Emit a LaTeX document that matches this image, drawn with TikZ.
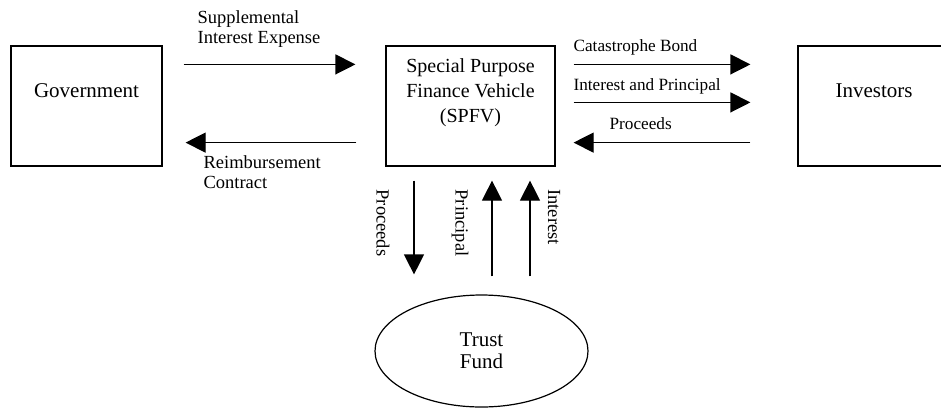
\documentclass[tikz,border=0pt]{standalone}
\usepackage{fontspec}
\setmainfont{Liberation Serif}
\usetikzlibrary{arrows.meta,shapes.geometric,calc}

\begin{document}
\begin{tikzpicture}[x=0.5pt, y=-0.5pt, line width=0.6pt,
            party/.style = {draw, rectangle,
                        minimum height=60pt},
            fund/.style = {draw, ellipse, inner sep=0pt,
                        minimum width=106.5pt, minimum height=56pt,
                        align=center, font=\fontsize{10.5}{11}\selectfont},
            title/.style = {align=center, inner sep=0pt,
                        font=\fontsize{10.5}{12.5}\selectfont},
            note/.style = {inner sep=0pt,
                        font=\fontsize{9.25}{10}\selectfont},
            smallnote/.style = {note, anchor=west,
                        font=\fontsize{8.6}{10}\selectfont},
            flow/.style = {-{Triangle[length=10pt,width=10pt]}}]
            \useasboundingbox (0,0) rectangle (941,408);
            % Parties
            \node[party, minimum width=75.5pt] (gov) at (86.5,106) {};
            \node[party, minimum width=84.5pt] (spfv) at (470.5,106) {};
            \node[party, minimum width=76pt] (inv) at (874,106) {};
            \node[fund] (trust) at (481.5,351) {Trust\\Fund};
            % Box texts
            \node[title] (govtxt) at ([yshift=7.5pt]gov.center) {Government};
            \node[title, font=\fontsize{10}{12.5}\selectfont] (spfvtxt) at ([yshift=6.5pt]spfv.center) {Special Purpose\\Finance Vehicle\\(SPFV)};
            \node[title] (invtxt) at ([yshift=7.5pt]inv.center) {Investors};
            % Government <-> SPFV
            \draw[flow] ($(gov.north east)+(21,19)$) -- ($(spfv.north west)+(-30,19)$);
            \draw[flow] ($(spfv.south west)+(-29,-24)$) -- ($(gov.south east)+(23,-24)$);
            \node[note, anchor=west, align=left] (supp) at (197,29) {Supplemental\\Interest Expense};
            \node[note, anchor=west, align=left] (reimb) at (203,172) {Reimbursement\\Contract};
            % SPFV <-> Investors
            \draw[flow] ($(spfv.north east)+(18,19)$) -- ($(inv.north west)+(-47,19)$);
            \draw[flow] ($(spfv.north east)+(18,57)$) -- ($(inv.north west)+(-47,57)$);
            \draw[flow] ($(inv.south west)+(-47,-24)$) -- ($(spfv.south east)+(18,-24)$);
            \node[smallnote] (bond) at (573,47) {Catastrophe Bond};
            \node[smallnote] (intpr) at (573,86) {Interest and Principal};
            \node[smallnote] (procin) at (609,124) {Proceeds};
            % SPFV <-> Trust Fund
            \draw[flow] ($(spfv.south)+(-56.5,14)$) -- ($(trust.north)+(-67.5,-20)$);
            \draw[flow] ($(trust.north)+(10.5,-18)$) -- ($(spfv.south)+(21.5,14)$);
            \draw[flow] ($(trust.north)+(48.5,-18)$) -- ($(spfv.south)+(59.5,14)$);
            \node[note, rotate=-90] (procout) at (383,223) {Proceeds};
            \node[note, rotate=-90] (princ) at (460,223) {Principal};
            \node[note, rotate=-90] (intr) at (554,217) {Interest};
        \end{tikzpicture}
\end{document}
